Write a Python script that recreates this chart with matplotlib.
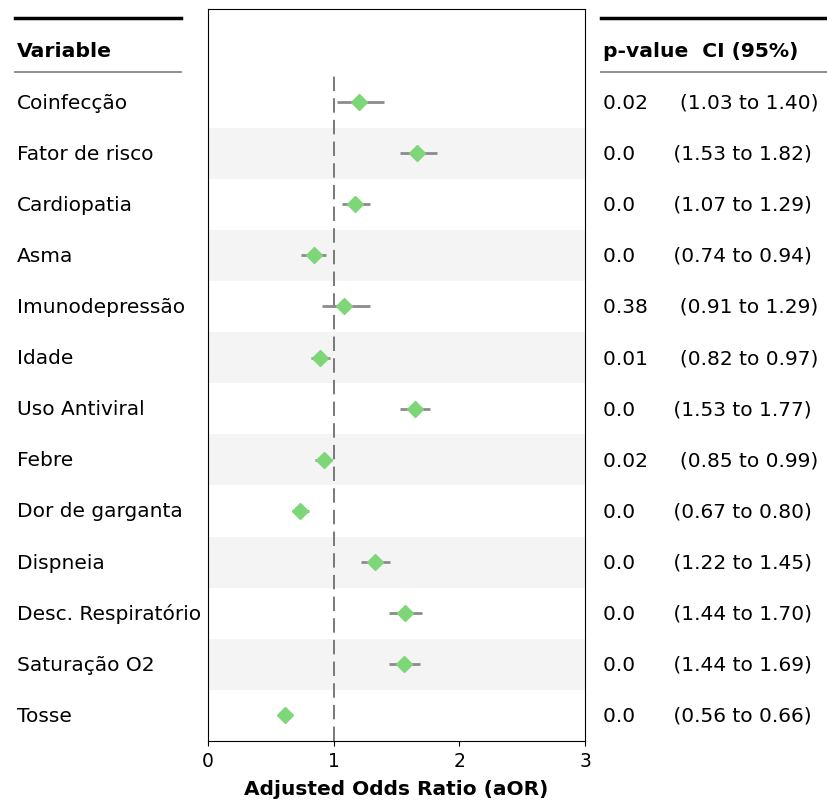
import matplotlib.pyplot as plt
import matplotlib.transforms as mtransforms
from matplotlib.lines import Line2D

# dados (de cima para baixo)
variaveis = ["Coinfecção", "Fator de risco", "Cardiopatia", "Asma", "Imunodepressão",
             "Idade", "Uso Antiviral", "Febre", "Dor de garganta", "Dispneia",
             "Desc. Respiratório", "Saturação O2", "Tosse"]
aor = [1.20, 1.66, 1.17, 0.84, 1.08, 0.89, 1.65, 0.92, 0.73, 1.33, 1.57, 1.56, 0.61]
ic_inf = [1.03, 1.53, 1.07, 0.74, 0.91, 0.82, 1.53, 0.85, 0.67, 1.22, 1.44, 1.44, 0.56]
ic_sup = [1.40, 1.82, 1.29, 0.94, 1.29, 0.97, 1.77, 0.99, 0.80, 1.45, 1.70, 1.69, 0.66]
pvalores = ["0.02", "0.0", "0.0", "0.0", "0.38", "0.01", "0.0", "0.02", "0.0", "0.0",
            "0.0", "0.0", "0.0"]

fs = 14.5
n = len(variaveis)
ypos = [n - 1 - i for i in range(n)]  # Coinfecção no topo
header_y = n

fig = plt.figure(figsize=(8.27, 8.04), dpi=100)
ax = fig.add_axes([0.2515, 0.0771, 0.4559, 0.9105])

# faixas alternadas
for i, y in enumerate(ypos):
    if i % 2 == 1:
        ax.axhspan(y - 0.5, y + 0.5, color="#f4f4f4", zorder=0, lw=0)

ax.vlines(1, -0.5, n - 0.47, colors="#6e6e6e", linestyles=(0, (8, 4)), lw=1.3, zorder=1)
ax.hlines(ypos, ic_inf, ic_sup, colors="#8c8c8c", lw=2, zorder=2)
ax.plot(aor, ypos, "D", color="#7dd678", ms=8, zorder=3)

ax.set_xlim(0, 3)
ax.set_ylim(-0.5, n + 0.82)
ax.set_xticks([0, 1, 2, 3])
ax.tick_params(axis="x", labelsize=fs - 1)
ax.set_yticks([])
ax.set_xlabel("Adjusted Odds Ratio (aOR)", fontsize=fs, fontweight="bold", labelpad=7)

trans = mtransforms.blended_transform_factory(fig.transFigure, ax.transData)

# tabela esquerda
ax.text(0.0206, header_y, "Variable", transform=trans, fontsize=fs + 0.2,
        fontweight="bold", va="center", ha="left")
for nome, y in zip(variaveis, ypos):
    ax.text(0.0206, y, nome, transform=trans, fontsize=fs, va="center", ha="left")

# tabela direita
ax.text(0.729, header_y, "p-value".ljust(9) + "CI (95%)", transform=trans,
        fontsize=fs + 0.1, fontweight="bold", va="center", ha="left")
for p, lo, hi, y in zip(pvalores, ic_inf, ic_sup, ypos):
    s = p.ljust(9) + f"({lo:.2f} to {hi:.2f})"
    ax.text(0.729, y, s, transform=trans, fontsize=fs, va="center", ha="left")

# linhas do cabeçalho
top_y = n + 0.64
sub_y = n - 0.41
for x0, x1 in [(0.018, 0.219), (0.727, 1.0)]:
    fig.add_artist(Line2D([x0, x1], [top_y, top_y], transform=trans, color="black", lw=2.5))
    fig.add_artist(Line2D([x0, x1], [sub_y, sub_y], transform=trans, color="#888888", lw=1.3))

fig.savefig("out.png", dpi=100)
